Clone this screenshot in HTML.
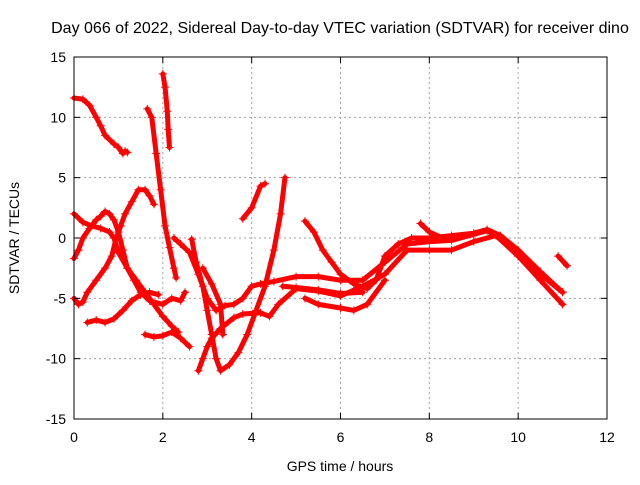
<!DOCTYPE html>
<html><head><meta charset="utf-8"><style>
body{margin:0;background:#fff;font-family:"Liberation Sans",sans-serif;}
svg text{font-family:"Liberation Sans",sans-serif;font-size:14px;fill:#000;}
</style></head><body>
<svg id="chart" width="640" height="480" xmlns="http://www.w3.org/2000/svg">
<rect width="640" height="480" fill="#fff"/>
<text x="340" y="33" text-anchor="middle" style="font-size:16px">Day 066 of 2022, Sidereal Day-to-day VTEC variation (SDTVAR) for receiver dino</text>
<g id="grid"></g>
<g id="marks"></g>
<rect x="74" y="57" width="533" height="362" fill="none" stroke="#000" stroke-width="1"/>
<g id="ticks"></g>
<text x="340" y="471" text-anchor="middle">GPS time / hours</text>
<text transform="translate(19,238) rotate(-90)" text-anchor="middle">SDTVAR / TECUs</text>
</svg>
<script>
const xTicks=[0,2,4,6,8,10,12];
const yTicks=[-15,-10,-5,0,5,10,15];
const s1=[[0,11.6],[0.2,11.5],[0.35,11],[0.5,10],[0.6,9.3],[0.7,8.5],[0.9,7.8],[1.0,7.5],[1.1,7],[1.15,7.2],[1.2,7.1]];
const s2=[[0,-1.7],[0.1,-1],[0.2,0],[0.35,0.8],[0.5,1.5],[0.6,1.8],[0.7,2.2],[0.8,2],[0.9,1.5],[1.0,0.5],[1.1,-1],[1.2,-2.5],[1.35,-3.5],[1.5,-4.5],[1.7,-5.2],[2.0,-5.5],[2.2,-5.0],[2.4,-5.2],[2.5,-4.5]];
const s3=[[0,2],[0.2,1.3],[0.4,1],[0.6,0.8],[0.8,0.5],[0.9,0],[1.0,-1.2],[1.2,-2.5],[1.4,-3.5],[1.6,-4.5],[1.8,-5.5],[2.0,-6.5],[2.2,-7.3],[2.35,-7.8]];
const s4=[[0,-5],[0.1,-5.5],[0.2,-5.3],[0.3,-4.5],[0.5,-3.5],[0.7,-2.5],[0.85,-1.5],[0.95,0],[1.05,1],[1.15,2],[1.3,3],[1.45,4],[1.6,4],[1.7,3.5],[1.8,2.8]];
const s5=[[0.3,-7],[0.5,-6.8],[0.7,-7],[0.9,-6.7],[1.1,-6],[1.3,-5.2],[1.5,-4.7],[1.7,-4.5],[1.9,-4.7]];
const s6=[[1.6,-8],[1.8,-8.2],[2.0,-8.1],[2.2,-7.8],[2.4,-8.3],[2.6,-9]];
const s7=[[1.65,10.7],[1.75,10],[1.85,7],[1.95,4],[2.05,1],[2.15,-0.8],[2.25,-2.5],[2.3,-3.3]];
const s8=[[2.0,13.6],[2.05,12.5],[2.1,10.5],[2.12,9],[2.15,7.5]];
const s9=[[2.25,0],[2.4,-0.5],[2.6,-1.2],[2.8,-3],[3.0,-5],[3.2,-6],[3.4,-5.6],[3.6,-5.5],[3.8,-5],[4.0,-4],[4.2,-3.8],[4.5,-3.6],[5,-3.2],[5.5,-3.2],[6,-3.5],[6.5,-3.5],[7,-2],[7.5,-0.5],[8,-0.3],[8.5,-0.2],[9,0.3],[9.3,0.6],[9.6,0],[10,-1.5],[10.5,-3],[11,-4.5]];
const s10=[[2.65,-0.1],[2.75,-2],[2.9,-4],[3.0,-6],[3.1,-8],[3.2,-10],[3.3,-11],[3.5,-10.5],[3.7,-9.5],[3.9,-8],[4.1,-6],[4.3,-4],[4.5,-1],[4.65,2],[4.75,5]];
const s11=[[2.8,-11],[2.9,-10],[3.0,-9],[3.1,-8.3],[3.3,-7.5],[3.6,-6.6],[3.8,-6.3],[4.2,-6.2],[4.4,-6.5],[4.6,-5.5],[5,-4.2],[5.5,-4.4],[6,-4.8],[6.5,-4],[7,-3],[7.5,-1],[8,-1],[8.5,-1],[9,-0.3],[9.5,0.2],[10,-1.5],[10.5,-3.5],[11,-5.5]];
const s12=[[3.8,1.6],[4.0,2.5],[4.2,4.3],[4.3,4.5]];
const s13=[[5.2,1.4],[5.4,0.5],[5.6,-1],[5.8,-2],[6.0,-3],[6.3,-3.8],[6.6,-4.2],[6.8,-3.5],[7.0,-1.5],[7.3,-0.5],[7.6,0],[8,0],[8.5,0.2],[9,0.4],[9.3,0.7],[9.6,0.2],[10,-1],[10.5,-2.8],[11,-4.5]];
const s14=[[4.7,-4],[5,-4.1],[5.5,-4.3],[6,-4.6],[6.5,-4.5]];
const s15=[[5.2,-5],[5.5,-5.5],[6,-5.8],[6.3,-6],[6.6,-5.5],[7,-3.5]];
const s16=[[7.8,1.2],[8,0.5],[8.3,0]];
const s17=[[10.9,-1.5],[11.1,-2.3]];
const s18=[[2.9,-2.5],[3.1,-3.8],[3.3,-5.5],[3.35,-8]];
const allSeries=[s1,s2,s3,s4,s5,s6,s7,s8,s9,s10,s11,s12,s13,s14,s15,s16,s17,s18];
const X0=74,X1=607,Y0=419,Y1=57;
const sx=v=>X0+(v-0)/12*(X1-X0);
const sy=v=>Y0-(v+15)/30*(Y0-Y1);
const NS="http://www.w3.org/2000/svg";
const grid=document.getElementById('grid'),ticks=document.getElementById('ticks'),marks=document.getElementById('marks');
function mk(t,a,p){const e=document.createElementNS(NS,t);for(const k in a)e.setAttribute(k,a[k]);p.appendChild(e);return e;}
xTicks.forEach(t=>{const x=sx(t);
 if(t>0&&t<12){const g=mk('line',{x1:x,x2:x,y1:Y1,y2:Y0,stroke:'#a0a0a0','stroke-dasharray':'2,3'},grid);
 
 }
 mk('line',{x1:x,x2:x,y1:Y0,y2:Y0-6,stroke:'#000'},ticks);mk('line',{x1:x,x2:x,y1:Y1,y2:Y1+6,stroke:'#000'},ticks);
 const l=mk('text',{x:x,y:Y0+23,'text-anchor':'middle'},ticks);l.textContent=t;
 
 });
yTicks.forEach(t=>{const y=sy(t);
 if(t>-15&&t<15){const g=mk('line',{x1:X0,x2:X1,y1:y,y2:y,stroke:'#a0a0a0','stroke-dasharray':'2,3'},grid);
 
 }
 mk('line',{x1:X0,x2:X0+6,y1:y,y2:y,stroke:'#000'},ticks);mk('line',{x1:X1,x2:X1-6,y1:y,y2:y,stroke:'#000'},ticks);
 const l=mk('text',{x:X0-8,y:y+5,'text-anchor':'end'},ticks);l.textContent=t;
 
 });
allSeries.forEach((s,i)=>{
 const pl=mk('polyline',{points:s.map(p=>sx(p[0])+','+sy(p[1])).join(' '),fill:'none',stroke:'#f00','stroke-width':5,'stroke-linejoin':'round','stroke-linecap':'round'},marks);
 
 
 s.forEach(p=>{const x=sx(p[0]),y=sy(p[1]);
  const m=mk('path',{d:`M${x-4},${y}H${x+4}M${x},${y-4}V${y+4}`,stroke:'#f00','stroke-width':1},marks);
  
  });
});
</script>
</body></html>
